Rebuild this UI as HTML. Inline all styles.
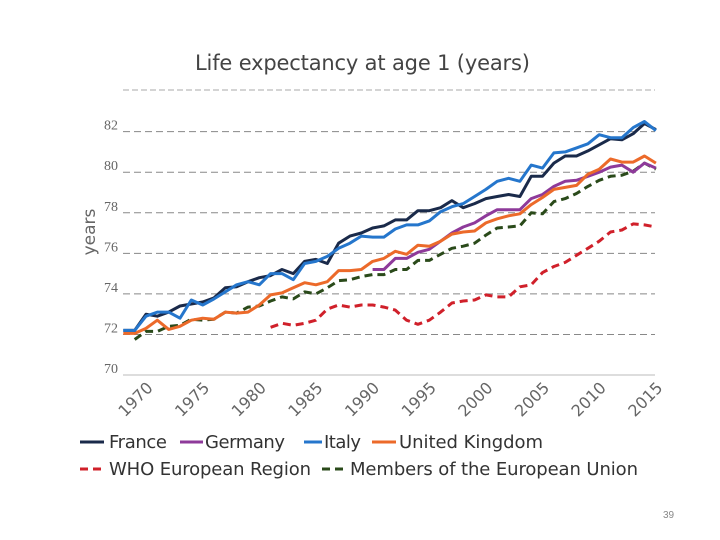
<!DOCTYPE html>
<html><head><meta charset="utf-8"><style>
html,body{margin:0;padding:0;background:#fff;}
svg{display:block;font-family:"DejaVu Sans","Liberation Sans",sans-serif;}
</style></head><body>
<svg id="chart" width="720" height="540" viewBox="0 0 720 540">
<text x="195" y="70" font-size="21" fill="#444" textLength="335">Life expectancy at age 1 (years)</text>
<line x1="123" x2="655" y1="90" y2="90" stroke="#aaa" stroke-dasharray="6,3"/>
<text transform="translate(95,232) rotate(-90)" font-size="17" fill="#666" text-anchor="middle">years</text>
<g id="grid"></g><g id="series"></g><g id="xticks"></g>
<g>
<line x1="80" x2="104" y1="442" y2="442" stroke="#1a2a4a" stroke-width="3"/>
<text x="109" y="448" font-size="18" fill="#333" textLength="58">France</text>
<line x1="180" x2="203" y1="442" y2="442" stroke="#8e3a9a" stroke-width="3"/>
<text x="205" y="448" font-size="18" fill="#333" textLength="80">Germany</text>
<line x1="304" x2="322" y1="442" y2="442" stroke="#2576cc" stroke-width="3"/>
<text x="324" y="448" font-size="18" fill="#333" textLength="37">Italy</text>
<line x1="372" x2="396" y1="442" y2="442" stroke="#ec6a2a" stroke-width="3"/>
<text x="399" y="448" font-size="18" fill="#333" textLength="144">United Kingdom</text>
<line x1="80" x2="104" y1="469" y2="469" stroke="#d0202a" stroke-width="3" stroke-dasharray="8,5"/>
<text x="109" y="475" font-size="18" fill="#333" textLength="202">WHO European Region</text>
<line x1="322" x2="347" y1="469" y2="469" stroke="#2a4a1a" stroke-width="3" stroke-dasharray="8,5"/>
<text x="350" y="475" font-size="18" fill="#333" textLength="288">Members of the European Union</text>
</g>
<text x="663" y="518" font-size="10" fill="#888" font-family="Liberation Sans, sans-serif">39</text>
</svg>
<script>
const yTicks=[70,72,74,76,78,80,82];
const xTickYears=[1970,1975,1980,1985,1990,1995,2000,2005,2010,2015];
const france=[[1968,72.2],[1969,72.2],[1970,73.0],[1971,72.9],[1972,73.1],[1973,73.4],[1974,73.5],[1975,73.6],[1976,73.8],[1977,74.3],[1978,74.35],[1979,74.6],[1980,74.8],[1981,74.9],[1982,75.2],[1983,75.0],[1984,75.6],[1985,75.7],[1986,75.5],[1987,76.5],[1988,76.85],[1989,77.0],[1990,77.25],[1991,77.35],[1992,77.65],[1993,77.65],[1994,78.1],[1995,78.1],[1996,78.25],[1997,78.6],[1998,78.25],[1999,78.45],[2000,78.7],[2001,78.8],[2002,78.9],[2003,78.8],[2004,79.8],[2005,79.8],[2006,80.45],[2007,80.8],[2008,80.8],[2009,81.05],[2010,81.35],[2011,81.65],[2012,81.6],[2013,81.9],[2014,82.4],[2015,82.1]];
const germany=[[1990,75.2],[1991,75.2],[1992,75.75],[1993,75.75],[1994,76.05],[1995,76.2],[1996,76.6],[1997,77.0],[1998,77.3],[1999,77.5],[2000,77.85],[2001,78.15],[2002,78.15],[2003,78.15],[2004,78.7],[2005,78.9],[2006,79.3],[2007,79.55],[2008,79.6],[2009,79.8],[2010,80.0],[2011,80.25],[2012,80.35],[2013,80.0],[2014,80.45],[2015,80.2]];
const italy=[[1968,72.2],[1969,72.2],[1970,72.9],[1971,73.1],[1972,73.1],[1973,72.8],[1974,73.7],[1975,73.45],[1976,73.75],[1977,74.1],[1978,74.45],[1979,74.6],[1980,74.45],[1981,75.0],[1982,75.0],[1983,74.7],[1984,75.5],[1985,75.6],[1986,75.85],[1987,76.25],[1988,76.5],[1989,76.85],[1990,76.8],[1991,76.8],[1992,77.2],[1993,77.4],[1994,77.4],[1995,77.6],[1996,78.05],[1997,78.3],[1998,78.45],[1999,78.8],[2000,79.15],[2001,79.55],[2002,79.7],[2003,79.55],[2004,80.35],[2005,80.2],[2006,80.95],[2007,81.0],[2008,81.2],[2009,81.4],[2010,81.85],[2011,81.7],[2012,81.7],[2013,82.2],[2014,82.5],[2015,82.05]];
const uk=[[1968,72.05],[1969,72.05],[1970,72.3],[1971,72.7],[1972,72.25],[1973,72.4],[1974,72.7],[1975,72.8],[1976,72.75],[1977,73.1],[1978,73.05],[1979,73.1],[1980,73.45],[1981,73.95],[1982,74.05],[1983,74.3],[1984,74.55],[1985,74.45],[1986,74.6],[1987,75.15],[1988,75.15],[1989,75.2],[1990,75.6],[1991,75.75],[1992,76.1],[1993,75.95],[1994,76.4],[1995,76.35],[1996,76.6],[1997,76.95],[1998,77.05],[1999,77.1],[2000,77.5],[2001,77.7],[2002,77.85],[2003,77.95],[2004,78.4],[2005,78.75],[2006,79.15],[2007,79.25],[2008,79.35],[2009,79.9],[2010,80.15],[2011,80.65],[2012,80.5],[2013,80.5],[2014,80.8],[2015,80.45]];
const who=[[1981,72.35],[1982,72.55],[1983,72.45],[1984,72.55],[1985,72.7],[1986,73.25],[1987,73.45],[1988,73.35],[1989,73.45],[1990,73.45],[1991,73.35],[1992,73.2],[1993,72.7],[1994,72.5],[1995,72.7],[1996,73.1],[1997,73.55],[1998,73.65],[1999,73.7],[2000,73.95],[2001,73.85],[2002,73.85],[2003,74.35],[2004,74.45],[2005,75.05],[2006,75.35],[2007,75.55],[2008,75.9],[2009,76.25],[2010,76.6],[2011,77.05],[2012,77.15],[2013,77.45],[2014,77.4],[2015,77.3]];
const eu=[[1969,71.75],[1970,72.15],[1971,72.15],[1972,72.4],[1973,72.45],[1974,72.75],[1975,72.7],[1976,72.75],[1977,73.1],[1978,73.05],[1979,73.35],[1980,73.4],[1981,73.65],[1982,73.85],[1983,73.75],[1984,74.1],[1985,74.0],[1986,74.3],[1987,74.65],[1988,74.7],[1989,74.85],[1990,74.95],[1991,74.95],[1992,75.2],[1993,75.2],[1994,75.65],[1995,75.65],[1996,75.95],[1997,76.25],[1998,76.35],[1999,76.5],[2000,76.9],[2001,77.25],[2002,77.3],[2003,77.35],[2004,78.0],[2005,77.95],[2006,78.55],[2007,78.7],[2008,78.95],[2009,79.3],[2010,79.6],[2011,79.8],[2012,79.85],[2013,80.05],[2014,80.45],[2015,80.15]];

const NS="http://www.w3.org/2000/svg";
function xS(y){return 146+(y-1970)*11.33;}
function yS(v){return 375-(v-70)*20.28;}
const grid=document.getElementById('grid');
yTicks.forEach(t=>{
  const l=document.createElementNS(NS,'line');
  l.setAttribute('x1',123);l.setAttribute('x2',655);
  l.setAttribute('y1',yS(t));l.setAttribute('y2',yS(t));
  l.setAttribute('stroke',t===70?'#bbb':'#888');
  if(t!==70)l.setAttribute('stroke-dasharray','7,4');
  
  
  grid.appendChild(l);
  const tx=document.createElementNS(NS,'text');
  tx.setAttribute('x',118);tx.setAttribute('y',yS(t)-2);
  tx.setAttribute('text-anchor','end');tx.setAttribute('font-size','14');
  tx.setAttribute('fill','#666');tx.setAttribute('font-family','Liberation Serif, serif');
  tx.textContent=t;
  
  
  grid.appendChild(tx);
});
const xt=document.getElementById('xticks');
xTickYears.forEach(y=>{
  const tx=document.createElementNS(NS,'text');
  const x=xS(y),yy=381;
  tx.setAttribute('transform','translate('+x+','+yy+') rotate(-45)');
  tx.setAttribute('text-anchor','end');tx.setAttribute('font-size','16');
  tx.setAttribute('fill','#666');
  tx.setAttribute('dy','11');
  tx.textContent=y;
  
  
  xt.appendChild(tx);
});
const sg=document.getElementById('series');
function draw(data,color,dash,name){
  const p=document.createElementNS(NS,'polyline');
  p.setAttribute('points',data.map(d=>xS(d[0]).toFixed(1)+','+yS(d[1]).toFixed(1)).join(' '));
  p.setAttribute('fill','none');p.setAttribute('stroke',color);
  p.setAttribute('stroke-width','3');p.setAttribute('stroke-linejoin','round');
  if(dash)p.setAttribute('stroke-dasharray','8,5');
  
  
  sg.appendChild(p);
}
draw(who,'#d0202a',true,'series-who-european-region');
draw(eu,'#2a4a1a',true,'series-eu-members');
draw(germany,'#8e3a9a',false,'series-germany');
draw(uk,'#ec6a2a',false,'series-united-kingdom');
draw(france,'#1a2a4a',false,'series-france');
draw(italy,'#2576cc',false,'series-italy');
</script>
</body></html>
